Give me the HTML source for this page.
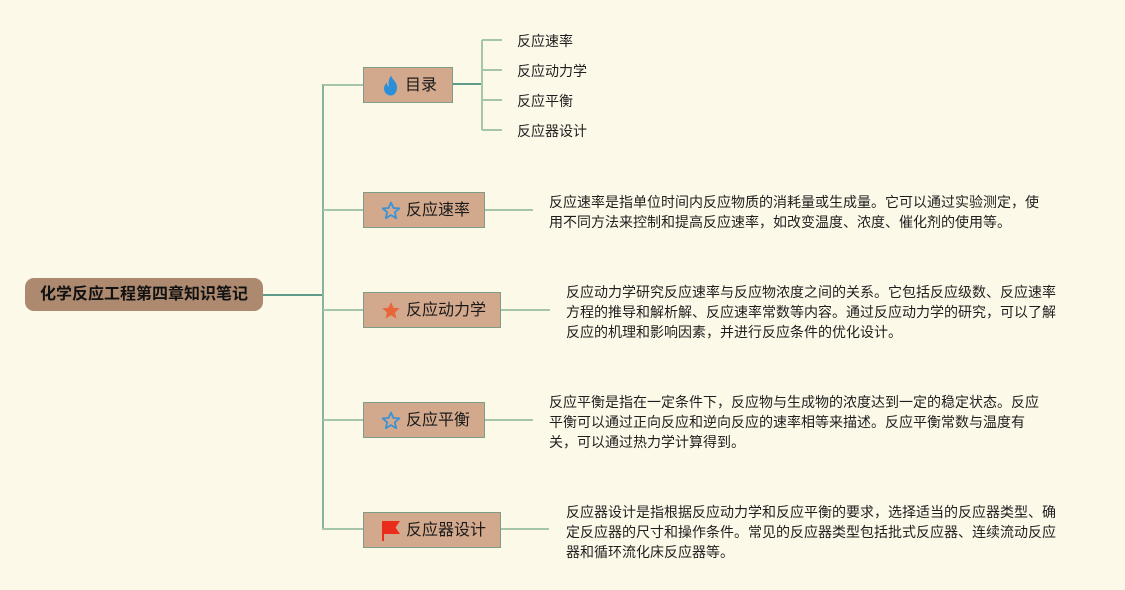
<!DOCTYPE html>
<html><head><meta charset="utf-8"><style>
html,body{margin:0;padding:0}
body{width:1125px;height:590px;background:#fdf9e9;position:relative;overflow:hidden;font-family:"Liberation Sans","Noto Sans CJK SC",sans-serif;color:#1e1e1e}
.root{position:absolute;left:25px;top:278px;width:238px;height:33px;background:#ad8a6f;border-radius:9px;font-weight:bold;font-size:16px;line-height:34px;text-align:center;color:#111}
.node{position:absolute;left:363px;height:34px;background:#d3a98d;border:1px solid #7f9c86;box-sizing:content-box;font-size:16px;line-height:34px;color:#1a1a1a}
.node svg{position:absolute;top:8px}
.node span{position:absolute;top:1px}
.sub{position:absolute;left:517px;font-size:14px;line-height:20px;color:#1e1e1e;white-space:nowrap}
.desc{position:absolute;font-size:14px;line-height:20px;white-space:nowrap;color:#1e1e1e}
svg.lines{position:absolute;left:0;top:0}
</style></head><body>
<svg class="lines" width="1125" height="590">
<g fill="none" stroke-linecap="butt">
<line x1="263" y1="295" x2="323" y2="295" stroke="#5f9a8b" stroke-width="2"/>
<line x1="323" y1="84" x2="323" y2="530" stroke="#86b3a0" stroke-width="2"/>
<line x1="323" y1="85" x2="363" y2="85" stroke="#a6c6aa" stroke-width="2"/>
<line x1="323" y1="210" x2="363" y2="210" stroke="#a6c6aa" stroke-width="2"/>
<line x1="323" y1="310" x2="363" y2="310" stroke="#a6c6aa" stroke-width="2"/>
<line x1="323" y1="420" x2="363" y2="420" stroke="#a6c6aa" stroke-width="2"/>
<line x1="322" y1="529" x2="363" y2="529" stroke="#a6c6aa" stroke-width="2"/>
<line x1="452" y1="84" x2="482" y2="84" stroke="#5f9a8b" stroke-width="2"/>
<line x1="482" y1="40" x2="482" y2="130" stroke="#a6c6aa" stroke-width="2"/>
<line x1="482" y1="40" x2="502" y2="40" stroke="#a6c6aa" stroke-width="2"/>
<line x1="482" y1="70" x2="502" y2="70" stroke="#a6c6aa" stroke-width="2"/>
<line x1="482" y1="100" x2="502" y2="100" stroke="#a6c6aa" stroke-width="2"/>
<line x1="482" y1="130" x2="502" y2="130" stroke="#a6c6aa" stroke-width="2"/>
<line x1="485" y1="210" x2="533" y2="210" stroke="#a6c6aa" stroke-width="2"/>
<line x1="501" y1="310" x2="550" y2="310" stroke="#a6c6aa" stroke-width="2"/>
<line x1="485" y1="420" x2="533" y2="420" stroke="#a6c6aa" stroke-width="2"/>
<line x1="501" y1="529" x2="549" y2="529" stroke="#a6c6aa" stroke-width="2"/>
</g>
</svg>

<div class="root">化学反应工程第四章知识笔记</div>

<div class="node" style="top:67px;width:88px">
<svg style="left:18px;top:7px" width="18" height="21" viewBox="0 0 18 20"><path d="M9 0 C10 4 15 6 15 12 C15 17 12 20 9 20 C5 20 2 17 2 13 C2 10 4 8 5 7 C5 10 6 11 7 11 C6 7 7 3 9 0 Z" fill="#2a8fd8"/></svg>
<span style="left:41px">目录</span></div>
<div class="node" style="top:192px;width:120px">
<svg style="left:17px" width="20" height="19" viewBox="0 0 20 19"><path d="M10 1.5 L12.4 7 L18.3 7.4 L13.8 11.3 L15.2 17.2 L10 14.1 L4.8 17.2 L6.2 11.3 L1.7 7.4 L7.6 7 Z" fill="none" stroke="#3b92d4" stroke-width="1.8" stroke-linejoin="round"/></svg>
<span style="left:42px">反应速率</span></div>
<div class="node" style="top:292px;width:136px">
<svg style="left:17px" width="20" height="19" viewBox="0 0 20 19"><path d="M10 1 L12.5 6.8 L18.8 7.3 L14 11.4 L15.5 17.6 L10 14.3 L4.5 17.6 L6 11.4 L1.2 7.3 L7.5 6.8 Z" fill="#e8663a"/></svg>
<span style="left:42px">反应动力学</span></div>
<div class="node" style="top:402px;width:120px">
<svg style="left:17px" width="20" height="19" viewBox="0 0 20 19"><path d="M10 1.5 L12.4 7 L18.3 7.4 L13.8 11.3 L15.2 17.2 L10 14.1 L4.8 17.2 L6.2 11.3 L1.7 7.4 L7.6 7 Z" fill="none" stroke="#3b92d4" stroke-width="1.8" stroke-linejoin="round"/></svg>
<span style="left:42px">反应平衡</span></div>
<div class="node" style="top:512px;width:136px">
<svg style="left:17px;top:7px" width="20" height="21" viewBox="0 0 20 21"><path d="M1 1 L19 1 L14.5 7.5 L19 14 L3 14 L3 21 L1 21 Z" fill="#ea2c1a"/></svg>
<span style="left:42px">反应器设计</span></div>

<div class="sub" style="top:31px">反应速率</div>
<div class="sub" style="top:61px">反应动力学</div>
<div class="sub" style="top:91px">反应平衡</div>
<div class="sub" style="top:121px">反应器设计</div>

<div class="desc" style="left:549px;top:192px">反应速率是指单位时间内反应物质的消耗量或生成量。它可以通过实验测定，使<br>用不同方法来控制和提高反应速率，如改变温度、浓度、催化剂的使用等。</div>
<div class="desc" style="left:566px;top:282px">反应动力学研究反应速率与反应物浓度之间的关系。它包括反应级数、反应速率<br>方程的推导和解析解、反应速率常数等内容。通过反应动力学的研究，可以了解<br>反应的机理和影响因素，并进行反应条件的优化设计。</div>
<div class="desc" style="left:549px;top:392px">反应平衡是指在一定条件下，反应物与生成物的浓度达到一定的稳定状态。反应<br>平衡可以通过正向反应和逆向反应的速率相等来描述。反应平衡常数与温度有<br>关，可以通过热力学计算得到。</div>
<div class="desc" style="left:566px;top:502px">反应器设计是指根据反应动力学和反应平衡的要求，选择适当的反应器类型、确<br>定反应器的尺寸和操作条件。常见的反应器类型包括批式反应器、连续流动反应<br>器和循环流化床反应器等。</div>
</body></html>
